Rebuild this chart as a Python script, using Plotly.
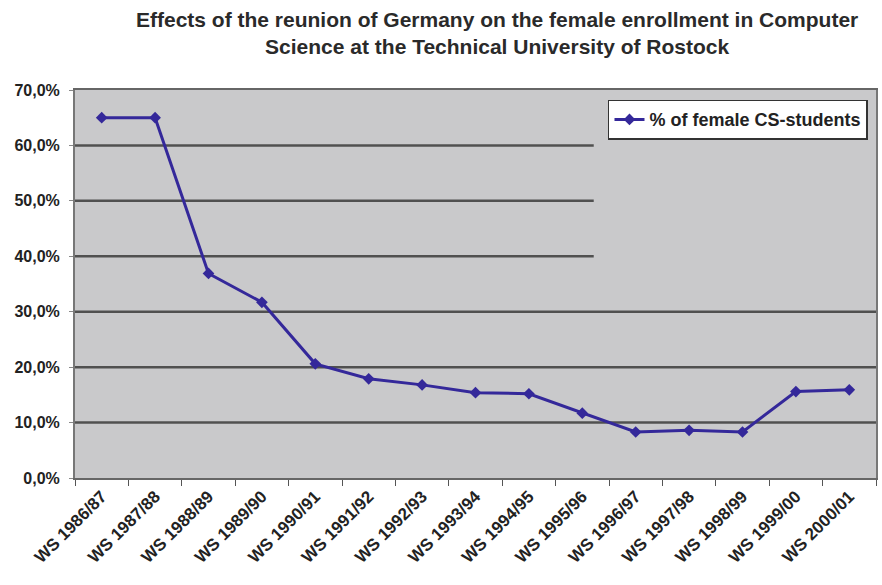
import plotly.graph_objects as go

# Winter semesters and share of female computer science students (%)
semesters = [
    "WS 1986/87", "WS 1987/88", "WS 1988/89", "WS 1989/90", "WS 1990/91",
    "WS 1991/92", "WS 1992/93", "WS 1993/94", "WS 1994/95", "WS 1995/96",
    "WS 1996/97", "WS 1997/98", "WS 1998/99", "WS 1999/00", "WS 2000/01",
]
female_share = [65.0, 65.0, 36.9, 31.7, 20.6, 17.9, 16.8, 15.4, 15.2, 11.7,
                8.3, 8.6, 8.3, 15.6, 15.9]

y_ticks = [0, 10, 20, 30, 40, 50, 60, 70]
y_tick_labels = ["0,0%", "10,0%", "20,0%", "30,0%", "40,0%", "50,0%", "60,0%", "70,0%"]

# gridlines that run across the full width vs. those that stop short
full_grid = [10, 20, 30]
short_grid = [40, 50, 60]

FONT = "Liberation Sans"
LINE_COLOR = "#34289a"
GRID_COLOR = "#505050"

fig = go.Figure()
fig.add_trace(go.Scatter(
    x=semesters,
    y=female_share,
    mode="lines+markers",
    name="% of female CS-students",
    line=dict(color=LINE_COLOR, width=3),
    marker=dict(symbol="diamond", size=9, color=LINE_COLOR),
))

shapes = []
for v in full_grid:
    shapes.append(dict(type="line", xref="paper", yref="y", x0=0, x1=1, y0=v, y1=v,
                       line=dict(color=GRID_COLOR, width=2.5), layer="below"))
for v in short_grid:
    shapes.append(dict(type="line", xref="paper", yref="y", x0=0, x1=0.6476, y0=v, y1=v,
                       line=dict(color=GRID_COLOR, width=2.5), layer="below"))

fig.add_annotation(
    text="Effects of the reunion of Germany on the female enrollment in Computer<br>"
         "Science at the Technical University of Rostock",
    xref="paper", yref="paper",
    x=0.527, xanchor="center",
    y=1.078, yanchor="bottom",
    showarrow=False,
    align="center",
    font=dict(family=FONT, size=21, color="#2a2a2a", weight="bold"),
)

fig.update_layout(
    width=882,
    height=585,
    margin=dict(l=75, r=4, t=90, b=107),
    paper_bgcolor="white",
    plot_bgcolor="#c9c9cb",
    shapes=shapes,
    showlegend=True,
    legend=dict(
        x=0.99, xanchor="right",
        y=0.975, yanchor="top",
        bgcolor="white",
        bordercolor="#333333",
        borderwidth=1.5,
        font=dict(family=FONT, size=18, color="#222222", weight="bold"),
    ),
    xaxis=dict(
        type="category",
        range=[-0.5, len(semesters) - 0.5],
        tickangle=-45,
        tickson="boundaries",
        ticks="outside",
        ticklen=6,
        tickcolor="#555555",
        showgrid=False,
        showline=True,
        linecolor="#666666",
        linewidth=2,
        mirror=True,
        tickfont=dict(family=FONT, size=17, color="#222222", weight="bold"),
    ),
    yaxis=dict(
        range=[0, 70],
        tickvals=y_ticks,
        ticktext=y_tick_labels,
        ticks="outside",
        ticklen=4,
        tickcolor="#888888",
        ticklabelstandoff=6,
        showgrid=False,
        zeroline=False,
        showline=True,
        linecolor="#777777",
        linewidth=2,
        mirror=True,
        tickfont=dict(family=FONT, size=16, color="#222222", weight="bold"),
    ),
)

fig.write_html("out.html")
